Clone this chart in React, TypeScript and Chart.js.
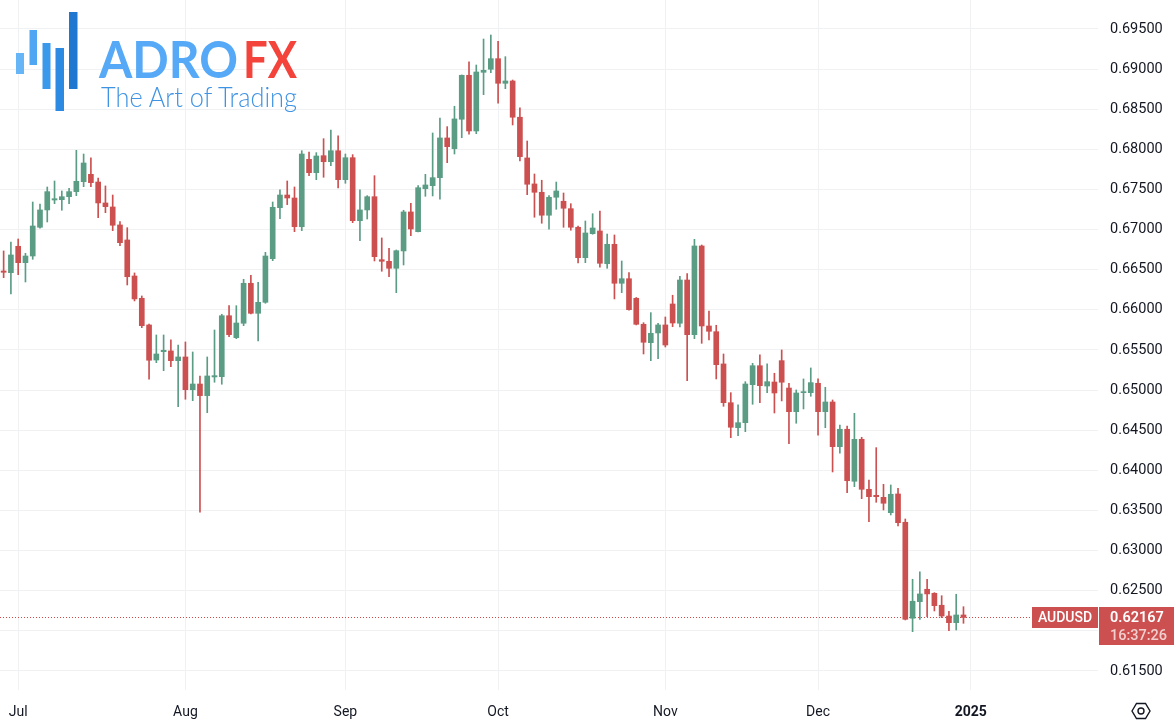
import React, { useEffect, useRef } from 'react';
import { Chart, registerables } from 'chart.js';

Chart.register(...registerables);

// Daily AUDUSD candles, 27 Jun 2024 .. 31 Dec 2024 (bar index 0..132)
const opens = [
  0.66484, 0.66463, 0.66792, 0.66588, 0.66671, 0.67029, 0.67245, 0.67369, 0.67373, 0.67410,
  0.67473, 0.67597, 0.67689, 0.67593, 0.67332, 0.67282, 0.67058, 0.66871, 0.66422, 0.66144,
  0.65812, 0.65375, 0.65479, 0.65488, 0.65367, 0.65413, 0.65005, 0.65076, 0.64931, 0.65164,
  0.65167, 0.65927, 0.65653, 0.65833, 0.66331, 0.65957, 0.66094, 0.66638, 0.67273, 0.67431,
  0.67394, 0.67036, 0.67876, 0.67709, 0.67921, 0.67846, 0.67983, 0.67622, 0.67896, 0.67111,
  0.67245, 0.67410, 0.66625, 0.66605, 0.66518, 0.66734, 0.67220, 0.66974, 0.67510, 0.67547,
  0.67647, 0.68142, 0.68008, 0.68375, 0.68923, 0.68229, 0.68960, 0.68998, 0.69130, 0.68823,
  0.68852, 0.68400, 0.67893, 0.67569, 0.67465, 0.67179, 0.67403, 0.67353, 0.67261, 0.67029,
  0.66650, 0.66949, 0.66983, 0.66575, 0.66817, 0.66331, 0.66388, 0.66144, 0.65820, 0.65591,
  0.65712, 0.65812, 0.66073, 0.65833, 0.66372, 0.65691, 0.66796, 0.65799, 0.65728, 0.65326,
  0.64843, 0.64532, 0.64594, 0.65068, 0.65304, 0.65051, 0.65101, 0.65367, 0.65026, 0.64731,
  0.64968, 0.64968, 0.65085, 0.64731, 0.64852, 0.64295, 0.64512, 0.63864, 0.64387, 0.63764,
  0.63689, 0.63664, 0.63473, 0.63706, 0.63353, 0.62157, 0.62364, 0.62518, 0.62468, 0.62319,
  0.62185, 0.62102, 0.62198,
];
const highs = [
  0.66734, 0.66846, 0.66883, 0.66705, 0.67344, 0.67319, 0.67531, 0.67606, 0.67481, 0.67515,
  0.67988, 0.67942, 0.67893, 0.67643, 0.67544, 0.67431, 0.67099, 0.67024, 0.66460, 0.66173,
  0.65824, 0.65687, 0.65687, 0.65625, 0.65562, 0.65600, 0.65475, 0.65176, 0.65413, 0.65749,
  0.65945, 0.66052, 0.66052, 0.66381, 0.66431, 0.66344, 0.66717, 0.67344, 0.67494, 0.67606,
  0.67531, 0.67983, 0.67967, 0.67959, 0.68133, 0.68241, 0.68167, 0.67942, 0.67934, 0.67494,
  0.67423, 0.67672, 0.66896, 0.66767, 0.66746, 0.67241, 0.67328, 0.67547, 0.67689, 0.68204,
  0.68391, 0.68283, 0.68537, 0.68927, 0.69089, 0.69051, 0.69375, 0.69425, 0.69347, 0.69155,
  0.68864, 0.68516, 0.68104, 0.67693, 0.67615, 0.67423, 0.67593, 0.67456, 0.67323, 0.67045,
  0.67107, 0.67198, 0.67232, 0.66945, 0.66933, 0.66609, 0.66463, 0.66154, 0.65840, 0.65965,
  0.65833, 0.65911, 0.66182, 0.66418, 0.66451, 0.66879, 0.66808, 0.65986, 0.65808, 0.65450,
  0.64968, 0.64815, 0.65105, 0.65334, 0.65441, 0.65326, 0.65210, 0.65500, 0.65085, 0.65002,
  0.65139, 0.65276, 0.65139, 0.65035, 0.64877, 0.64565, 0.64553, 0.64711, 0.64412, 0.63880,
  0.64283, 0.63826, 0.63818, 0.63777, 0.63394, 0.62643, 0.62734, 0.62643, 0.62476, 0.62438,
  0.62244, 0.62456, 0.62301,
];
const lows = [
  0.66401, 0.66198, 0.66438, 0.66347, 0.66630, 0.67017, 0.67095, 0.67323, 0.67241, 0.67323,
  0.67423, 0.67535, 0.67535, 0.67149, 0.67211, 0.66987, 0.66800, 0.66310, 0.66111, 0.65778,
  0.65135, 0.65342, 0.65242, 0.65292, 0.64793, 0.64886, 0.64868, 0.63478, 0.64719, 0.65098,
  0.65073, 0.65666, 0.65641, 0.65803, 0.65949, 0.65612, 0.66082, 0.66613, 0.67136, 0.67311,
  0.66974, 0.66987, 0.67672, 0.67622, 0.67652, 0.67797, 0.67519, 0.67577, 0.67086, 0.66862,
  0.67132, 0.66609, 0.66481, 0.66413, 0.66214, 0.66559, 0.66924, 0.66970, 0.67415, 0.67419,
  0.67378, 0.67834, 0.67942, 0.68145, 0.68188, 0.68195, 0.68681, 0.68955, 0.68574, 0.68756,
  0.68304, 0.67855, 0.67435, 0.67154, 0.67079, 0.67004, 0.67253, 0.67029, 0.66992, 0.66584,
  0.66588, 0.66942, 0.66531, 0.66518, 0.66136, 0.66214, 0.65995, 0.65812, 0.65450, 0.65367,
  0.65392, 0.65537, 0.65790, 0.65787, 0.65117, 0.65641, 0.65583, 0.65625, 0.65139, 0.64798,
  0.64407, 0.64432, 0.64482, 0.64823, 0.64843, 0.64968, 0.64715, 0.64865, 0.64332, 0.64587,
  0.64765, 0.64923, 0.64437, 0.64532, 0.63980, 0.64213, 0.63722, 0.63797, 0.63647, 0.63360,
  0.63602, 0.63506, 0.63444, 0.63307, 0.62136, 0.61990, 0.62144, 0.62177, 0.62248, 0.62164,
  0.62002, 0.62011, 0.62094,
];
const closes = [
  0.66468, 0.66684, 0.66588, 0.66671, 0.67045, 0.67245, 0.67473, 0.67385, 0.67410, 0.67473,
  0.67602, 0.67830, 0.67585, 0.67332, 0.67286, 0.67054, 0.66837, 0.66413, 0.66136, 0.65803,
  0.65372, 0.65450, 0.65496, 0.65367, 0.65413, 0.65005, 0.65076, 0.64931, 0.65176, 0.65180,
  0.65927, 0.65691, 0.65836, 0.66331, 0.65957, 0.66094, 0.66671, 0.67278, 0.67431, 0.67394,
  0.67036, 0.67942, 0.67709, 0.67917, 0.67846, 0.67983, 0.67622, 0.67896, 0.67111, 0.67245,
  0.67410, 0.66663, 0.66605, 0.66518, 0.66737, 0.67220, 0.67008, 0.67522, 0.67556, 0.67647,
  0.68142, 0.68033, 0.68379, 0.68923, 0.68229, 0.68964, 0.68985, 0.69130, 0.68823, 0.68852,
  0.68400, 0.67909, 0.67565, 0.67465, 0.67179, 0.67403, 0.67481, 0.67266, 0.67029, 0.66650,
  0.66958, 0.67020, 0.66580, 0.66817, 0.66331, 0.66388, 0.66002, 0.65820, 0.65596, 0.65708,
  0.65812, 0.65562, 0.65836, 0.66372, 0.65691, 0.66796, 0.65799, 0.65733, 0.65317, 0.64843,
  0.64537, 0.64594, 0.65076, 0.65304, 0.65055, 0.65105, 0.64964, 0.65098, 0.64731, 0.64964,
  0.64980, 0.65093, 0.64731, 0.64852, 0.64295, 0.64512, 0.63871, 0.64387, 0.63764, 0.63672,
  0.63672, 0.63590, 0.63702, 0.63348, 0.62144, 0.62369, 0.62460, 0.62460, 0.62314, 0.62185,
  0.62102, 0.62198, 0.62167,
];

const monthTickIndex = [2, 25, 47, 68, 91, 112, 133];
const monthTickLabels = ['Jul', 'Aug', 'Sep', 'Oct', 'Nov', 'Dec', '2025'];
const priceTicks = [
  0.615, 0.62, 0.625, 0.63, 0.635, 0.64, 0.645, 0.65, 0.655,
  0.66, 0.665, 0.67, 0.675, 0.68, 0.685, 0.69, 0.695,
];
const symbolName = 'AUDUSD';
const lastPrice = 0.62167;
const countdownText = '16:37:26';

const UP = '#5b9c84';
const DOWN = '#cc5050';
const GRID = '#f0f1f3';
const TEXT = '#131722';
const FONT = 'Roboto, "Noto Sans", sans-serif';

const priceTagPlugin = {
  id: 'priceTag',
  beforeDatasetsDraw(chart: any) {
    const { ctx, chartArea } = chart;
    const y = Math.round(chart.scales.y.getPixelForValue(lastPrice)) + 0.5;
    ctx.save();
    ctx.strokeStyle = '#d04a4a';
    ctx.lineWidth = 1;
    ctx.setLineDash([1, 2]);
    ctx.beginPath();
    ctx.moveTo(chartArea.left, y);
    ctx.lineTo(chartArea.right, y);
    ctx.stroke();
    ctx.restore();
  },
  afterDraw(chart: any) {
    const { ctx, chartArea } = chart;
    const y = Math.round(chart.scales.y.getPixelForValue(lastPrice));
    ctx.save();
    ctx.fillStyle = DOWN;
    ctx.fillRect(chartArea.right - 66, y - 10, 66, 21);
    ctx.fillRect(chartArea.right + 1, y - 10, chart.width - chartArea.right - 1, 38);
    ctx.textBaseline = 'middle';
    ctx.fillStyle = '#ffffff';
    ctx.font = `500 14px ${FONT}`;
    ctx.textAlign = 'center';
    ctx.fillText(symbolName, chartArea.right - 33, y + 1);
    ctx.textAlign = 'left';
    ctx.font = `600 14.5px ${FONT}`;
    ctx.fillText(lastPrice.toFixed(5), chartArea.right + 12, y + 1);
    ctx.fillStyle = 'rgba(255,255,255,0.72)';
    ctx.font = `500 14.5px ${FONT}`;
    ctx.fillText(countdownText, chartArea.right + 12, y + 19);
    ctx.restore();
  },
};

function CandleChart() {
  const ref = useRef<HTMLCanvasElement | null>(null);
  useEffect(() => {
    if (!ref.current) return;
    const colors = opens.map((o, i) => (closes[i] >= o ? UP : DOWN));
    const chart = new Chart(ref.current, {
      type: 'bar',
      data: {
        datasets: [
          {
            label: 'body',
            data: opens.map((o, i) => ({ x: i, y: [Math.min(o, closes[i]), Math.max(o, closes[i])] })) as any,
            backgroundColor: colors,
            borderWidth: 0,
            barThickness: 5,
            minBarLength: 1,
            grouped: false,
          } as any,
          {
            label: 'wick',
            data: highs.map((h, i) => ({ x: i, y: [lows[i], h] })) as any,
            backgroundColor: colors,
            borderWidth: 0,
            barThickness: 1,
            grouped: false,
          } as any,
        ],
      },
      options: {
        animation: false,
        responsive: false,
        maintainAspectRatio: false,
        layout: { padding: 0 },
        plugins: { legend: { display: false }, tooltip: { enabled: false } },
        scales: {
          x: {
            type: 'linear',
            min: -0.5,
            max: 150.5,
            offset: false,
            afterBuildTicks: (s: any) => {
              s.ticks = monthTickIndex.map((v) => ({ value: v }));
            },
            afterFit: (s: any) => {
              s.height = 38;
              s.paddingLeft = 0;
              s.paddingRight = 0;
            },
            ticks: {
              autoSkip: false,
              maxRotation: 0,
              padding: 14,
              color: TEXT,
              font: (c: any) => ({
                family: FONT,
                size: 14,
                weight: c.tick && c.tick.value === 133 ? 'bold' : 'normal',
              }),
              callback: (_v: any, i: number) => monthTickLabels[i] ?? '',
            },
            grid: { color: GRID, drawTicks: false, offset: false },
            border: { display: false },
          } as any,
          y: {
            type: 'linear',
            position: 'right',
            min: 0.61263,
            max: 0.69861,
            afterBuildTicks: (s: any) => {
              s.ticks = priceTicks.map((v) => ({ value: v }));
            },
            afterFit: (s: any) => {
              s.width = 76;
              s.paddingTop = 0;
              s.paddingBottom = 0;
            },
            ticks: {
              padding: 12,
              color: TEXT,
              font: { family: FONT, size: 14.5 },
              callback: (v: any) => Number(v).toFixed(5),
            },
            grid: { color: GRID, drawTicks: false },
            border: { display: false },
          } as any,
        },
      },
      plugins: [priceTagPlugin],
    });
    return () => chart.destroy();
  }, []);
  return <canvas ref={ref} width={1174} height={728} style={{ display: 'block', width: 1174, height: 728 }} />;
}

function Logo() {
  return (
    <svg width={310} height={120} style={{ position: 'absolute', left: 0, top: 0 }}>
      <rect x={16} y={53} width={8} height={21} fill="#66b5f7" />
      <rect x={29.5} y={30} width={7.5} height={35} fill="#4fa7f4" />
      <rect x={42.5} y={43} width={8} height={46} fill="#3b99ec" />
      <rect x={55.5} y={48} width={8.5} height={63} fill="#2c8ae2" />
      <rect x={69} y={12} width={8.5} height={77} fill="#1f77cf" />
      <text x={99} y={78} fontFamily="Lato, Inter, sans-serif" fontWeight={700} fontSize={52} fill="#56a9f6"
        textLength={139} lengthAdjust="spacingAndGlyphs">ADRO</text>
      <text x={243} y={78} fontFamily="Lato, Inter, sans-serif" fontWeight={700} fontSize={52} fill="#f4433a"
        textLength={54} lengthAdjust="spacingAndGlyphs">FX</text>
      <text x={101} y={107} fontFamily="Lato, Inter, sans-serif" fontWeight={300} fontSize={27} fill="#3f93e3"
        textLength={196} lengthAdjust="spacingAndGlyphs">The Art of Trading</text>
    </svg>
  );
}

function Gear() {
  return (
    <svg width={20} height={18} style={{ position: 'absolute', left: 1131, top: 702 }}>
      <polygon points="1,9 5.5,1.5 14.5,1.5 19,9 14.5,16.5 5.5,16.5" fill="none" stroke={TEXT} strokeWidth={1.4} />
      <circle cx={10} cy={9} r={3} fill="none" stroke={TEXT} strokeWidth={1.4} />
    </svg>
  );
}

export default function App() {
  return (
    <div style={{ position: 'absolute', left: 0, top: 0, width: 1174, height: 728, background: '#ffffff', overflow: 'hidden' }}>
      <CandleChart />
      <Logo />
      <Gear />
    </div>
  );
}
